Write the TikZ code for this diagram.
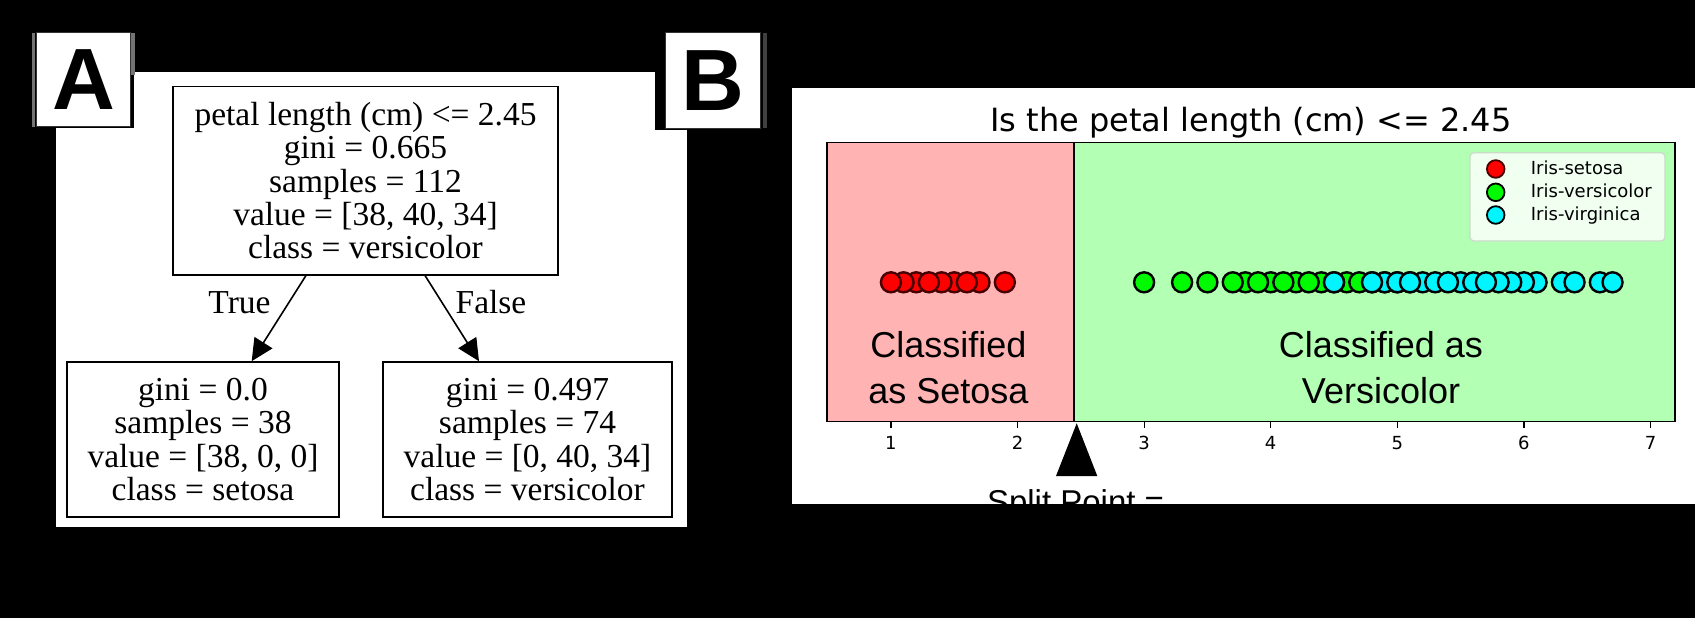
\documentclass[tikz,border=0pt]{standalone}
\usepackage{fontspec}
\setmainfont{Liberation Serif}
\newfontfamily\dejavu{DejaVu Sans}
\newfontfamily\arialf{Liberation Sans}
\usetikzlibrary{arrows.meta}
\definecolor{pinkbg}{RGB}{255,179,179}
\definecolor{greenbg}{RGB}{179,255,179}
\definecolor{setred}{RGB}{255,0,0}
\definecolor{vergreen}{RGB}{0,250,0}
\definecolor{vircyan}{RGB}{0,245,255}
\definecolor{reddark}{RGB}{70,0,0}
\definecolor{legbg}{RGB}{240,255,240}
\definecolor{legedge}{RGB}{200,220,200}
\begin{document}
\begin{tikzpicture}[x=1pt,y=-1pt,
  treebox/.style={draw=black, line width=1.6pt, fill=white, inner sep=0pt, align=center,
    font=\fontsize{33.5}{33.4}\selectfont},
  edgelabel/.style={anchor=base, inner sep=0pt, font=\fontsize{33.5}{33.4}\selectfont},
  treearrow/.style={line width=1.6pt, -{Triangle[length=22pt,width=21pt]}},
  panellabel/.style={draw=black!80, line width=1pt, fill=white, minimum width=94pt, minimum height=94pt,
    inner sep=0pt, font=\arialf\bfseries\fontsize{87}{87}\selectfont},
  dotS/.style={fill=setred, draw=reddark, line width=2.4pt},
  dotV/.style={fill=vergreen, draw=black, line width=2.4pt},
  dotC/.style={fill=vircyan, draw=black, line width=2.4pt},
  ticklab/.style={anchor=base, inner sep=0pt, font=\dejavu\fontsize{18}{18}\selectfont},
  leglab/.style={anchor=base west, inner sep=0pt, font=\dejavu\fontsize{18}{18}\selectfont},
  bigtext/.style={align=center, inner sep=0pt, font=\arialf\fontsize{36}{46}\selectfont}
]
\useasboundingbox (0,0) rectangle (1695,618);
\fill[black] (0,0) rectangle (1695,618);

% ---------------- Panel A ----------------
\fill[white] (56,71.7) rectangle (687,527);
\fill[black] (28,26) rectangle (134,128);
\fill[black] (655,26) rectangle (768,130);
\fill[black!55] (32,32.7) rectangle (34.5,126.7);
\fill[black!55] (131,32.7) rectangle (135,75);
\fill[black!75] (762.5,32.7) rectangle (767,128.3);

\node[panellabel] (labA) at (83.85,79.7) {A};
\node[panellabel, minimum width=95.7pt, minimum height=95.6pt] (labB) at (712.85,80.5) {B};

\node[treebox, minimum width=385pt, minimum height=188pt] (root) at (365.5,180.7)
  {petal length (cm) <= 2.45\\gini = 0.665\\samples = 112\\value = [38, 40, 34]\\class = versicolor};
\node[treebox, minimum width=272pt, minimum height=155pt] (leftleaf) at (203,439.5)
  {gini = 0.0\\samples = 38\\value = [38, 0, 0]\\class = setosa};
\node[treebox, minimum width=289pt, minimum height=155pt] (rightleaf) at (527.5,439.5)
  {gini = 0.497\\samples = 74\\value = [0, 40, 34]\\class = versicolor};

\draw[treearrow] ([xshift=-59.5pt]root.south) -- ([xshift=48.7pt]leftleaf.north);
\draw[treearrow] ([xshift=59.5pt]root.south) -- ([xshift=-48.5pt]rightleaf.north);
\node[edgelabel] (lTrue) at (239.5,313.3) {True};
\node[edgelabel] (lFalse) at (491,313.3) {False};

% ---------------- Panel B ----------------
\fill[white] (792,88.3) rectangle (1695,504);
\node[anchor=base, inner sep=0pt, font=\dejavu\fontsize{32}{32}\selectfont] (title) at (1251,131.7)
  {Is the petal length (cm) <= 2.45};

\fill[pinkbg] (827,142.3) rectangle (1074,421.7);
\fill[greenbg] (1074,142.3) rectangle (1675,421.7);

% legend
\draw[fill=legbg, draw=legedge, line width=1.2pt, rounded corners=4pt] (1470,152.7) rectangle (1665,241);
\draw[dotS, line width=1.8pt] (1495.7,169) circle[radius=8.8];
\draw[dotV, line width=1.8pt] (1495.7,192.3) circle[radius=8.8];
\draw[dotC, line width=1.8pt] (1495.7,215) circle[radius=8.8];
\node[leglab] (lgS) at (1530.7,174.3) {Iris-setosa};
\node[leglab] (lgV) at (1530.7,197.6) {Iris-versicolor};
\node[leglab] (lgC) at (1530.7,220.3) {Iris-virginica};

% points
\foreach \v in {1.2,1.1,1.0,1.5,1.4,1.3,1.7,1.6,1.9}
  \draw[dotS] ({764.3+126.6*\v},282.3) circle[radius=10];
\foreach \v in {3.8,4.0,4.2,4.4,4.6,4.8,4.9,5.0,5.1,3.0,3.3,3.5,3.7,3.9,4.1,4.3,4.5,4.7}
  \draw[dotV] ({764.3+126.6*\v},282.3) circle[radius=10];
\foreach \v in {6.1,6.0,5.9,5.8,5.5,5.6,5.7,5.2,5.3,5.4,4.9,5.0,5.1,4.8,4.5,6.3,6.4,6.6,6.7}
  \draw[dotC] ({764.3+126.6*\v},282.3) circle[radius=10];

\node[bigtext] (clsS) at (948.5,367.2) {Classified\\as Setosa};
\node[bigtext] (clsV) at (1381,367.2) {Classified as\\Versicolor};

% frame and split
\draw[line width=1.4pt] (827,142.3) rectangle (1675,421.7);
\draw[line width=2pt] (1074,142.3) -- (1074,421.7);

% ticks
\foreach \t in {1,...,7}{
  \draw[line width=1.2pt] ({764.3+126.6*\t},421.7) -- ({764.3+126.6*\t},427.5);
  \node[ticklab] at ({764.3+126.6*\t},449.3) {\t};
}

% split marker
\fill[black] (1076.7,423.3) -- (1097.3,476) -- (1056,476) -- cycle;
\node[anchor=base, inner sep=0pt, font=\arialf\fontsize{33}{33}\selectfont] (split) at (1075.5,513.6) {Split Point =};
\end{tikzpicture}
\end{document}
